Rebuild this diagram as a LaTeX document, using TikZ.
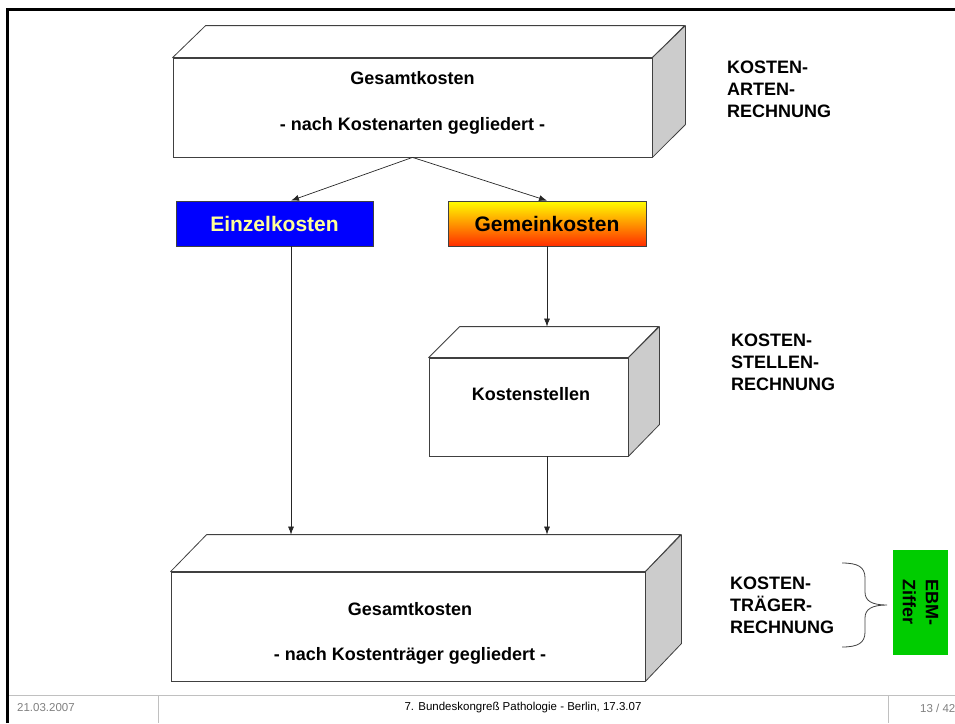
\documentclass[tikz,border=0pt]{standalone}
\usepackage{fontspec}
\setmainfont{Liberation Sans}
\usetikzlibrary{arrows.meta,calc}
\definecolor{kantenGrau}{RGB}{64,64,64}
\definecolor{seitenGrau}{RGB}{204,204,204}
\definecolor{einzelBlau}{RGB}{0,0,255}
\definecolor{einzelSchrift}{RGB}{255,255,153}
\definecolor{gemeinRot}{RGB}{255,45,0}
\definecolor{ebmGruen}{RGB}{0,204,0}
\definecolor{fussGrau}{RGB}{192,192,192}
\definecolor{fussText}{RGB}{128,128,128}
\tikzset{
  front/.style={draw=kantenGrau, fill=white, line width=0.8pt, inner sep=0pt},
  flaeche/.style={draw=kantenGrau, line width=0.8pt, line join=round},
  kasten/.style={draw=kantenGrau, line width=0.8pt, minimum width=197pt, minimum height=45pt,
    inner sep=0pt, font=\bfseries\fontsize{21}{25}\selectfont},
  fett/.style={font=\bfseries\fontsize{18}{22}\selectfont, inner sep=0pt},
  rechnung/.style={fett, align=left, anchor=west},
  pfeil/.style={draw=black!85, line width=0.7pt, -{Latex[length=8pt,width=6pt]}},
  fuss/.style={font=\fontsize{11.5}{13}\selectfont, inner sep=0pt}
}
\begin{document}
\begin{tikzpicture}[x=1pt, y=-1pt]
  \useasboundingbox (0,0) rectangle (955,723);
  % Rahmen und Fusszeile
  \draw[line width=3pt] (7.5,723) -- (7.5,9) -- (956,9);
  \draw[fussGrau, line width=1pt] (9,695) -- (955,695);
  \draw[fussGrau, line width=1pt] (158,695) -- (158,723);
  \draw[fussGrau, line width=1pt] (888,695) -- (888,723);
  \node[fuss, text=fussText, anchor=west] (datum) at (17,708) {21.03.2007};
  \node[fuss] (kongress) at (523,708) {7. Bundeskongreß Pathologie - Berlin, 17.3.07};
  \node[fuss, text=fussText, anchor=west] (seite) at (920,708) {13 / 42};

  % Spuren der senkrechten Pfeile
  \coordinate (links) at (291,0);
  \coordinate (rechts) at (547,0);

  % Gesamtkosten oben
  \node[front, minimum width=479pt, minimum height=99pt] (gesamt) at (412.5,107.5) {};
  \draw[flaeche, fill=white] (gesamt.north west) -- ++(33,-32) -- ++(479,0) -- (gesamt.north east) -- cycle;
  \draw[flaeche, fill=seitenGrau] (gesamt.north east) -- ++(33,-32) -- ++(0,99) -- (gesamt.south east) -- cycle;
  \node[fett] (gesamtTitel) at (412.5,78) {Gesamtkosten};
  \node[fett] (gesamtArten) at (412.5,126) {- nach Kostenarten gegliedert -};

  % Einzel- und Gemeinkosten
  \node[kasten, fill=einzelBlau, text=einzelSchrift] (einzel) at (274.5,223.5) {Einzelkosten};
  \node[kasten, top color=yellow, bottom color=gemeinRot, minimum width=198pt] (gemein) at (547,223.5) {Gemeinkosten};

  % Kostenstellen
  \node[front, minimum width=199pt, minimum height=98pt] (stellen) at (528.5,407) {};
  \draw[flaeche, fill=white] (stellen.north west) -- ++(31,-31) -- ++(199,0) -- (stellen.north east) -- cycle;
  \draw[flaeche, fill=seitenGrau] (stellen.north east) -- ++(31,-31) -- ++(0,98) -- (stellen.south east) -- cycle;
  \node[fett] (stellenTitel) at (531,394) {Kostenstellen};
  \coordinate (stellenHinten) at ($(stellen.north west)+(31,-31)$);

  % Gesamtkosten unten
  \node[front, minimum width=474pt, minimum height=109pt] (traeger) at (408,626.5) {};
  \draw[flaeche, fill=white] (traeger.north west) -- ++(36,-37) -- ++(474,0) -- (traeger.north east) -- cycle;
  \draw[flaeche, fill=seitenGrau] (traeger.north east) -- ++(36,-37) -- ++(0,109) -- (traeger.south east) -- cycle;
  \node[fett] (traegerTitel) at (410,609) {Gesamtkosten};
  \node[fett] (traegerGegl) at (410,656) {- nach Kostenträger gegliedert -};
  \coordinate (traegerHinten) at ($(traeger.north west)+(36,-37)$);

  % Pfeile
  \draw[pfeil] (gesamt.south) -- (einzel.north -| links);
  \draw[pfeil] (gesamt.south) -- (gemein.north -| rechts);
  \draw[pfeil] (gemein.south -| rechts) -- (rechts |- stellenHinten);
  \draw[pfeil] (einzel.south -| links) -- (links |- traegerHinten);
  \draw[pfeil] (stellen.south -| rechts) -- (rechts |- traegerHinten);

  % Beschriftungen rechts
  \node[rechnung] (arten) at (727,89) {KOSTEN-\\ARTEN-\\RECHNUNG};
  \node[rechnung] (stellenRechnung) at (731,362) {KOSTEN-\\STELLEN-\\RECHNUNG};
  \node[rechnung] (traegerRechnung) at (730,605) {KOSTEN-\\TRÄGER-\\RECHNUNG};

  % Klammer und EBM-Ziffer
  \draw[kantenGrau, line width=0.8pt] (842,563) .. controls (858,563) and (865,567) .. (865,578)
    -- (865,592) .. controls (865,601) and (872,605) .. (887,605)
    .. controls (872,605) and (865,609) .. (865,618) -- (865,632)
    .. controls (865,643) and (858,647) .. (842,647);
  \node[fill=ebmGruen, rotate=-90, minimum width=105pt, minimum height=55pt, inner sep=0pt,
    font=\bfseries\fontsize{18}{23}\selectfont, align=left] (ebm) at (920.5,602.5) {EBM-\\Ziffer};
\end{tikzpicture}
\end{document}
